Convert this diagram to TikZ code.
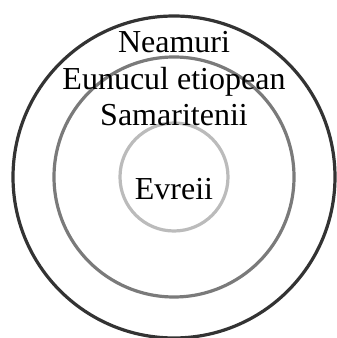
\documentclass[tikz,border=0pt]{standalone}
\usepackage{fontspec}
\setmainfont{Liberation Serif}
\usepackage{xcolor}
\usetikzlibrary{positioning}
\definecolor{ringdark}{HTML}{333333}
\definecolor{ringmid}{HTML}{7A7A7A}
\definecolor{ringlight}{HTML}{BBBBBB}

\begin{document}
\begin{tikzpicture}[
    x=1pt, y=1pt,
    ring/.style={line width=3.2pt},
    label/.style={font=\fontsize{32}{36}\selectfont, anchor=base, inner sep=0pt},
]
\useasboundingbox (0,0) rectangle (337,338);
\coordinate (c) at (174,161);

% Rings
\draw[ring, ringdark] (c) circle[radius=161];
\draw[ring, ringmid] (c) circle[radius=120];
\draw[ring, ringlight] (c) circle[radius=54];

% Labels
\node[label] (neamuri) at (174,285) {Neamuri};
\node[label] (eunuc) at (174,248) {Eunucul etiopean};
\node[label] (samar) at (174,212) {Samaritenii};
\node[label] (evrei) at (174,138) {Evreii};
\end{tikzpicture}
\end{document}
